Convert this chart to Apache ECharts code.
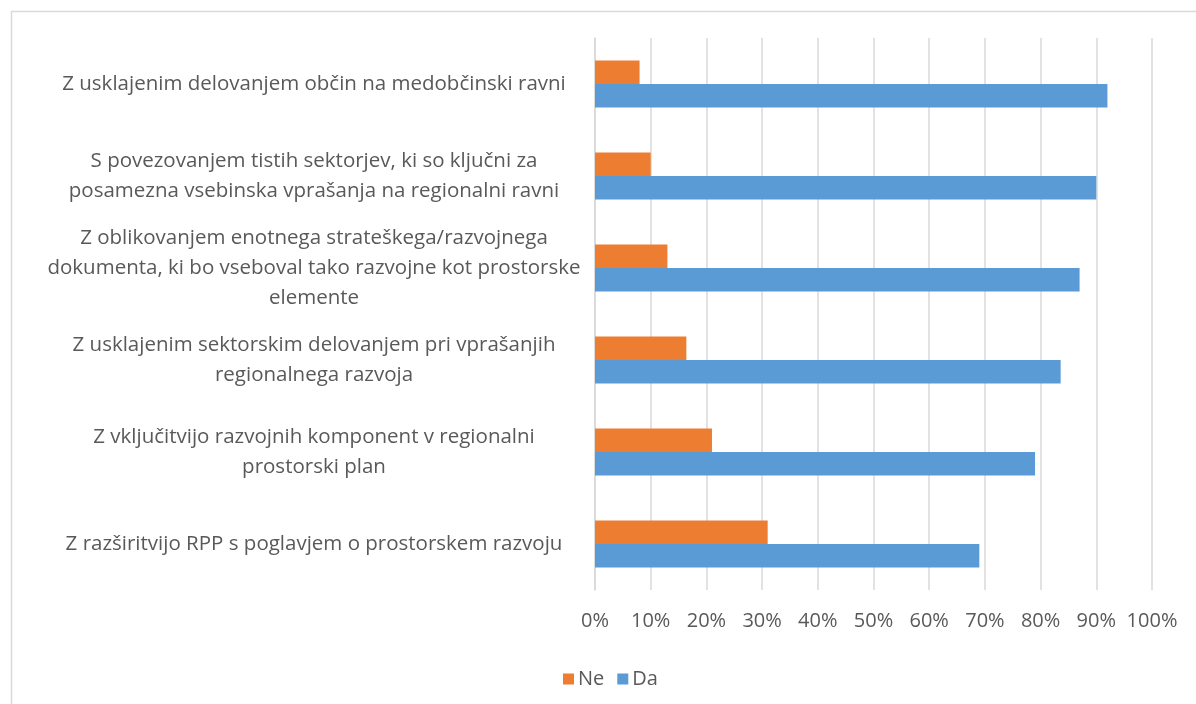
<!DOCTYPE html>
<html>
<head>
<meta charset="utf-8">
<script src="https://cdn.jsdelivr.net/npm/echarts@6/dist/echarts.min.js"></script>
<style>
  html, body { margin: 0; padding: 0; background: #ffffff; }
  #chart { width: 1196px; height: 704px; }
</style>
</head>
<body>
<div id="chart"></div>
<script>
// Categories listed top to bottom
const categories = [
  'Z usklajenim delovanjem občin na medobčinski ravni',
  'S povezovanjem tistih sektorjev, ki so ključni za\nposamezna vsebinska vprašanja na regionalni ravni',
  'Z oblikovanjem enotnega strateškega/razvojnega\ndokumenta, ki bo vseboval tako razvojne kot prostorske\nelemente',
  'Z usklajenim sektorskim delovanjem pri vprašanjih\nregionalnega razvoja',
  'Z vključitvijo razvojnih komponent v regionalni\nprostorski plan',
  'Z razširitvijo RPP s poglavjem o prostorskem razvoju'
];
const seriesNames = ['Ne', 'Da'];
const neValues = [8, 10, 13, 16.4, 21, 31];
const daValues = [92, 90, 87, 83.6, 79, 69];

const FONT = '"Open Sans", Lato, sans-serif';
const TEXT = '#595959';
const GRIDLINE = '#d9d9d9';

const chart = echarts.init(document.getElementById('chart'), null, { renderer: 'canvas' });

chart.setOption({
  backgroundColor: '#ffffff',
  animation: false,
  textStyle: { fontFamily: FONT },
  graphic: [{
    type: 'rect',
    left: 9, top: 9,
    shape: { width: 1200, height: 710 },
    style: { fill: 'none', stroke: GRIDLINE, lineWidth: 1.5 },
    silent: true
  }],
  grid: { left: 595, right: 44, top: 38, bottom: 114, containLabel: false },
  legend: {
    data: seriesNames,
    left: 558, top: 664,
    icon: 'rect',
    itemWidth: 11, itemHeight: 11, itemGap: 13,
    textStyle: { fontSize: 20, color: TEXT, fontFamily: FONT, padding: [0, 0, 0, -1] }
  },
  xAxis: {
    type: 'value',
    min: 0, max: 100, interval: 10,
    axisLine: { show: false },
    axisTick: { show: false },
    splitLine: { show: true, lineStyle: { color: GRIDLINE, width: 1.5 } },
    axisLabel: {
      formatter: '{value}%',
      fontSize: 20, color: TEXT, fontFamily: FONT, margin: 21
    }
  },
  yAxis: {
    type: 'category',
    inverse: true,
    data: categories,
    axisLine: { show: true, lineStyle: { color: GRIDLINE, width: 1.5 } },
    axisTick: { show: false },
    axisLabel: {
      align: 'center',
      margin: 281,
      fontSize: 20.5, lineHeight: 30,
      color: TEXT, fontFamily: FONT
    }
  },
  series: [
    {
      name: 'Ne', type: 'bar', data: neValues,
      barGap: '0%', barCategoryGap: '49%',
      itemStyle: { color: '#ED7D31' }
    },
    {
      name: 'Da', type: 'bar', data: daValues,
      barGap: '0%', barCategoryGap: '49%',
      itemStyle: { color: '#5B9BD5' }
    }
  ]
});
</script>
</body>
</html>
